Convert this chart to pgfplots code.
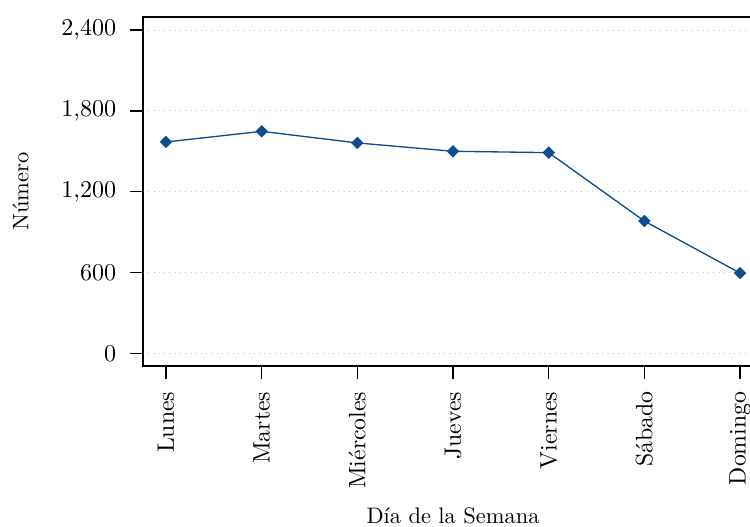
\documentclass[border=0pt]{standalone}
\usepackage{pgfplots}
\pgfplotsset{compat=1.18}
\definecolor{lineblue}{HTML}{0E4C8F}
\begin{document}
\begin{tikzpicture}
\begin{axis}[
  scale only axis,
  width=281.8pt, height=158.6pt,
  xmin=-0.24, xmax=6.24,
  ymin=-94, ymax=2497,
  xtick={0,1,2,3,4,5,6},
  xticklabels={Lunes,Martes,Miércoles,Jueves,Viernes,Sábado,Domingo},
  ytick={0,600,1200,1800,2400},
  tick align=outside,
  xtick pos=bottom, ytick pos=left,
  major tick length=6pt,
  every tick/.style={black, line width=0.7pt},
  axis line style={black, line width=0.8pt},
  ymajorgrids,
  grid style={dotted, gray!45, line width=0.5pt},
  tick label style={font=\fontsize{10.8}{13}\selectfont},
  label style={font=\fontsize{10.2}{12}\selectfont},
  xticklabel style={rotate=90, anchor=east, inner sep=0pt},
  yticklabel style={anchor=east, inner sep=0pt},
  xticklabel shift=5.5pt,
  yticklabel shift=6pt,
  xlabel={Día de la Semana},
  ylabel={Número},
  xlabel style={at={(axis description cs:0.5,0)}, anchor=north, inner sep=0pt, yshift=-64.3pt},
  ylabel style={at={(axis description cs:-0.1838,0.5)}, anchor=south, inner sep=0pt},
]
\addplot[lineblue, line width=0.6pt, mark=square*, mark size=1.7pt, mark options={fill=lineblue, draw=lineblue, rotate=45}]
  coordinates {(0,1569) (1,1648) (2,1562) (3,1500) (4,1490) (5,982) (6,596)};
\end{axis}
\pgfresetboundingbox
\useasboundingbox ([xshift=-65pt,yshift=-73.2pt]current axis.south west) rectangle ([xshift=-5.9pt,yshift=7.73pt]current axis.north east);
\end{tikzpicture}
\end{document}
